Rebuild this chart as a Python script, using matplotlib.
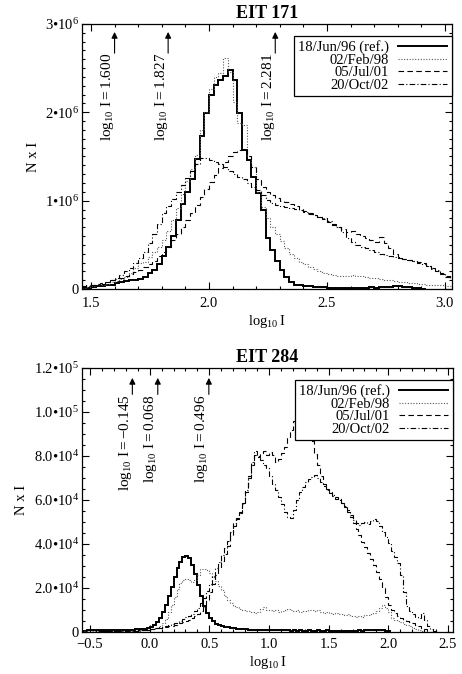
import numpy as np
import matplotlib
matplotlib.use('Agg')
import matplotlib.pyplot as plt
from matplotlib.ticker import MultipleLocator

plt.rcParams['font.family'] = ['Liberation Serif', 'DejaVu Serif']
plt.rcParams['mathtext.fontset'] = 'custom'
plt.rcParams['mathtext.rm'] = 'Liberation Serif'
plt.rcParams['mathtext.it'] = 'Liberation Serif:italic'
plt.rcParams['mathtext.bf'] = 'Liberation Serif:bold'

# ---------------- data ----------------
labels = ['18/Jun/96 (ref.)', '02/Feb/98', '05/Jul/01', '20/Oct/02']

# EIT 171: bins of 0.02 in log10 I starting at 1.46, values in units of 1e6
eit171_start = 1.46
eit171_step = 0.02
eit171_jun96 = [0.01, 0.015, 0.02, 0.03, 0.035, 0.04, 0.05, 0.07, 0.08, 0.09,
                0.10, 0.10, 0.11, 0.14, 0.18, 0.22, 0.28, 0.37, 0.48, 0.60,
                0.78, 0.96, 1.10, 1.25, 1.47, 1.73, 1.99, 2.20, 2.31, 2.37,
                2.41, 2.48, 2.37, 1.99, 1.57, 1.46, 1.27, 1.09, 0.90, 0.58,
                0.44, 0.32, 0.22, 0.14, 0.08, 0.05, 0.04, 0.03, 0.03, 0.025,
                0.02, 0.02, 0.015, 0.015, 0.015, 0.01, 0.01, 0.015, 0.01, 0.01,
                0.015, 0.02, 0.015, 0.02, 0.02, 0.025, 0.03, 0.03, 0.025, 0.02,
                0.015, 0.01, 0.005]
eit171_feb98 = [0.01, 0.02, 0.03, 0.04, 0.05, 0.06, 0.08, 0.09, 0.11, 0.14,
                0.18, 0.24, 0.30, 0.31, 0.36, 0.42, 0.48, 0.56, 0.66, 0.78,
                0.92, 1.08, 1.22, 1.36, 1.52, 1.80, 2.00, 2.26, 2.40, 2.45,
                2.62, 2.46, 2.12, 1.88, 1.86, 1.50, 1.38, 1.10, 0.93, 0.80,
                0.70, 0.62, 0.54, 0.46, 0.40, 0.35, 0.31, 0.28, 0.25, 0.23,
                0.20, 0.18, 0.17, 0.16, 0.15, 0.15, 0.15, 0.16, 0.15, 0.15,
                0.14, 0.13, 0.12, 0.11, 0.10, 0.10, 0.09, 0.08, 0.08, 0.07,
                0.07, 0.06, 0.06, 0.05, 0.05, 0.04, 0.04, 0.03, 0.03]
eit171_jul01 = [0.03, 0.04, 0.05, 0.06, 0.07, 0.08, 0.10, 0.11, 0.13, 0.15,
                0.17, 0.19, 0.22, 0.25, 0.28, 0.32, 0.37, 0.42, 0.48, 0.55,
                0.62, 0.70, 0.78, 0.86, 0.95, 1.04, 1.13, 1.21, 1.29, 1.37,
                1.44, 1.50, 1.55, 1.57, 1.58, 1.50, 1.38, 1.25, 1.15, 1.10,
                1.06, 1.03, 1.00, 0.98, 0.96, 0.94, 0.91, 0.88, 0.86, 0.84,
                0.82, 0.79, 0.76, 0.73, 0.70, 0.68, 0.65, 0.66, 0.62, 0.60,
                0.58, 0.56, 0.53, 0.59, 0.52, 0.46, 0.40, 0.36, 0.34, 0.33,
                0.32, 0.31, 0.29, 0.26, 0.23, 0.20, 0.17, 0.14, 0.12]
eit171_oct02 = [0.02, 0.03, 0.04, 0.05, 0.06, 0.08, 0.10, 0.13, 0.16, 0.20,
                0.24, 0.29, 0.35, 0.42, 0.52, 0.62, 0.74, 0.86, 0.94, 1.02,
                1.10, 1.18, 1.26, 1.34, 1.42, 1.48, 1.48, 1.46, 1.44, 1.41,
                1.38, 1.34, 1.30, 1.27, 1.24, 1.20, 1.16, 1.12, 1.06, 1.01,
                0.97, 0.95, 0.94, 0.93, 0.92, 0.91, 0.89, 0.87, 0.85, 0.84,
                0.82, 0.80, 0.77, 0.74, 0.70, 0.64, 0.58, 0.53, 0.50, 0.48,
                0.46, 0.44, 0.42, 0.40, 0.38, 0.37, 0.36, 0.35, 0.34, 0.33,
                0.32, 0.30, 0.28, 0.26, 0.24, 0.21, 0.18, 0.15, 0.13]
eit171_marks = [1.600, 1.827, 2.281]

# EIT 284: bins of 0.025 in log10 I starting at -0.575, values in units of 1e3
eit284_start = -0.575
eit284_step = 0.025
eit284_jun96 = [0.6, 0.6, 0.7, 0.7, 0.7, 0.7, 0.8, 0.8, 0.8, 0.8, 0.9, 0.9,
                0.9, 1.0, 1.0, 1.0, 1.1, 1.1, 1.2, 1.2, 1.3, 1.5, 1.8, 2.4,
                3.2, 4.5, 6.4, 9.0, 12.5, 16.5, 20.5, 25.0, 29.0, 32.0, 34.3, 34.6,
                33.5, 30.5, 26.5, 21.5, 16.5, 12.0, 8.5, 6.2, 4.8, 3.8, 3.2, 2.8,
                2.4, 2.1, 1.9, 1.7, 1.5, 1.4, 1.3, 1.2, 1.1, 1.0, 1.0, 0.9,
                0.9, 0.8, 0.9, 0.8, 0.8, 0.7, 0.8, 0.7, 0.7, 0.7, 0.6, 0.7,
                0.6, 0.7, 0.6, 0.6, 0.7, 0.6, 0.6, 0.7, 0.6, 0.6, 0.7, 0.6,
                0.6, 0.5, 0.6, 0.6, 0.5, 0.6, 0.5, 0.6, 0.6, 0.7, 0.6, 0.7,
                0.8, 0.7, 0.8, 0.9, 0.8, 0.8, 0.6, 0.3]
eit284_feb98 = [0.3, 0.3, 0.3, 0.3, 0.3, 0.3, 0.4, 0.4, 0.4, 0.4, 0.4, 0.4,
                0.5, 0.5, 0.5, 0.5, 0.5, 0.6, 0.6, 0.6, 0.7, 0.8, 1.0, 1.2,
                1.5, 2.0, 2.8, 4.0, 6.0, 9.0, 12.5, 16.0, 19.5, 22.5, 23.8, 24.2,
                23.5, 22.8, 23.5, 26.0, 28.5, 28.8, 28.0, 26.8, 25.0, 23.2, 21.0, 19.0,
                16.5, 14.5, 13.0, 12.0, 11.2, 10.5, 10.0, 9.6, 9.4, 9.0, 8.8, 9.2,
                10.5, 11.2, 10.0, 9.8, 9.4, 9.8, 9.2, 9.6, 10.0, 10.6, 10.2, 9.6,
                9.8, 9.2, 9.6, 9.4, 9.8, 10.2, 9.6, 10.0, 9.2, 8.8, 9.0, 8.6,
                8.4, 8.8, 8.2, 8.0, 7.8, 8.0, 7.4, 7.2, 7.0, 7.4, 7.0, 7.6,
                7.8, 8.4, 8.8, 9.6, 11.0, 12.5, 11.0, 9.0, 6.5, 5.5, 4.8, 4.5,
                3.5, 3.0, 2.6, 2.0, 1.5, 1.0, 0.5, 0.2]
eit284_jul01 = [0.2, 0.2, 0.2, 0.2, 0.2, 0.2, 0.3, 0.3, 0.3, 0.3, 0.3, 0.3,
                0.4, 0.4, 0.4, 0.4, 0.5, 0.5, 0.6, 0.6, 0.7, 0.8, 1.0, 1.2,
                1.4, 1.6, 1.8, 2.0, 2.3, 2.6, 2.9, 3.2, 3.6, 4.0, 4.4, 5.0,
                5.6, 6.4, 7.2, 8.2, 9.5, 11.5, 14.5, 18.0, 22.0, 26.0, 29.5, 32.5,
                35.5, 39.0, 43.5, 48.0, 51.5, 54.5, 58.0, 63.5, 70.0, 76.0, 80.5, 79.5,
                81.0, 82.5, 80.5, 82.0, 80.5, 77.5, 78.5, 81.5, 84.0, 88.5, 92.0, 96.0,
                99.0, 101.0, 99.5, 96.0, 92.0, 87.0, 81.0, 76.0, 71.0, 67.5, 65.0, 63.5,
                62.0, 60.5, 61.0, 58.5, 57.0, 54.5, 52.5, 49.5, 47.0, 44.0, 41.0, 38.5,
                36.0, 33.0, 30.5, 27.5, 24.0, 20.0, 16.0, 12.5, 10.0, 8.5, 7.4, 6.4,
                5.6, 5.0, 4.6, 4.2, 3.4, 2.7, 2.0, 1.2, 0.6, 0.2]
eit284_oct02 = [0.2, 0.2, 0.2, 0.2, 0.2, 0.3, 0.3, 0.3, 0.3, 0.3, 0.4, 0.4,
                0.4, 0.4, 0.5, 0.5, 0.5, 0.6, 0.6, 0.7, 0.8, 0.9, 1.1, 1.3,
                1.6, 1.9, 2.2, 2.5, 2.8, 3.2, 3.6, 4.0, 4.6, 5.2, 5.8, 6.6,
                7.4, 8.4, 9.6, 11.0, 13.0, 15.5, 18.5, 22.0, 25.5, 29.0, 32.0, 35.0,
                38.0, 41.5, 45.5, 49.5, 52.0, 54.0, 58.5, 64.5, 71.0, 77.5, 82.5, 80.0,
                78.0, 76.0, 74.5, 71.0, 67.5, 64.5, 61.5, 58.0, 54.5, 52.5, 52.0, 55.5,
                60.0, 63.5, 66.0, 68.0, 69.5, 70.5, 71.5, 70.0, 68.0, 66.5, 64.5, 63.0,
                62.5, 61.5, 60.0, 58.5, 57.5, 55.5, 53.0, 51.0, 49.5, 48.5, 49.5, 50.0,
                49.0, 50.5, 51.5, 50.5, 48.0, 45.5, 43.0, 40.5, 37.0, 34.0, 31.5, 26.0,
                18.0, 12.0, 9.5, 8.0, 7.0, 6.4, 8.6, 5.5, 2.8, 1.4, 0.6, 0.2]
eit284_marks = [-0.145, 0.068, 0.496]

# ---------------- styles ----------------
styles = [dict(color='k', lw=1.4, ls='-'),
          dict(color='0.35', lw=0.8, ls=(0, (1, 1.5))),
          dict(color='k', lw=0.8, ls=(0, (5, 3))),
          dict(color='k', lw=0.8, ls=(0, (5, 2, 1, 2)))]


def edges_for(start, step, vals):
    return start + step * np.arange(len(vals) + 1)


def panel(ax, title, start, step, series, scale, marks, xlim, ylim,
          yticks, yticklabels, ymin_step, text_top, arrow_tip, xpad):
    for vals, lab, st in zip(series, labels, styles):
        ax.stairs(np.array(vals) * scale, edges_for(start, step, vals),
                  label=lab, baseline=None, **st)
    ax.set_xlim(*xlim)
    ax.set_ylim(*ylim)
    ax.set_yticks(yticks, yticklabels)
    ax.xaxis.set_major_locator(MultipleLocator(0.5))
    ax.xaxis.set_minor_locator(MultipleLocator(0.1))
    ax.yaxis.set_minor_locator(MultipleLocator(ymin_step))
    ax.tick_params(which='both', direction='in', top=True, right=True,
                   labelsize=10.5, width=0.8)
    ax.tick_params(which='major', length=5)
    ax.tick_params(which='minor', length=2.5)
    ax.tick_params(axis='y', pad=2)
    ax.tick_params(axis='x', pad=xpad)
    for sp in ax.spines.values():
        sp.set_linewidth(0.9)
    ax.set_title(title, fontsize=13, fontweight='bold', pad=4)
    ax.set_xlabel(r'$\mathregular{log_{10}\,I}$', fontsize=10.5, labelpad=2)
    ax.set_ylabel('N x I', fontsize=10.5)

    for m in marks:
        txt = r'$\mathregular{log_{10}\ I = %.3f}$' % m
        ax.text(m + (xlim[1] - xlim[0]) * 0.004, text_top, txt, rotation=90,
                ha='right', va='top', fontsize=11)
        ax.annotate('', xy=(m, arrow_tip), xytext=(m, text_top),
                    arrowprops=dict(arrowstyle='-|>', color='k', lw=0.8,
                                    mutation_scale=9, shrinkA=0, shrinkB=0))

    leg = ax.legend(loc='upper right', bbox_to_anchor=(0.999, 0.955),
                    markerfirst=False, fontsize=10.5, handlelength=3.4,
                    labelspacing=-0.05, borderpad=0.3, handletextpad=0.6,
                    borderaxespad=0, fancybox=False, framealpha=1,
                    edgecolor='k')
    leg.get_frame().set_linewidth(0.9)


fig = plt.figure(figsize=(4.62, 6.74), dpi=100)
ax1 = fig.add_axes([82 / 462, 1 - 289 / 674, 370 / 462, 265 / 674])
ax2 = fig.add_axes([82 / 462, 1 - 632 / 674, 371 / 462, 264 / 674])

panel(ax1, 'EIT 171', eit171_start, eit171_step,
      [eit171_jun96, eit171_feb98, eit171_jul01, eit171_oct02], 1e6,
      eit171_marks, (1.462, 3.03), (0, 3e6),
      [0, 1e6, 2e6, 3e6],
      ['0', '$\\mathregular{1\u202210^{6}}$', '$\\mathregular{2\u202210^{6}}$',
       '$\\mathregular{3\u202210^{6}}$'],
      1e5, 2.67e6, 2.91e6, 6)

panel(ax2, 'EIT 284', eit284_start, eit284_step,
      [eit284_jun96, eit284_feb98, eit284_jul01, eit284_oct02], 1e3,
      eit284_marks, (-0.567, 2.542), (0, 1.2e5),
      [0, 2e4, 4e4, 6e4, 8e4, 1e5, 1.2e5],
      ['0'] + ['$\\mathregular{%s\u202210^{%d}}$' % (a, b) for a, b in
               [('2.0', 4), ('4.0', 4), ('6.0', 4), ('8.0', 4), ('1.0', 5), ('1.2', 5)]],
      5e3, 1.08e5, 1.155e5, 4.5)

fig.savefig('out.png', dpi=100)
